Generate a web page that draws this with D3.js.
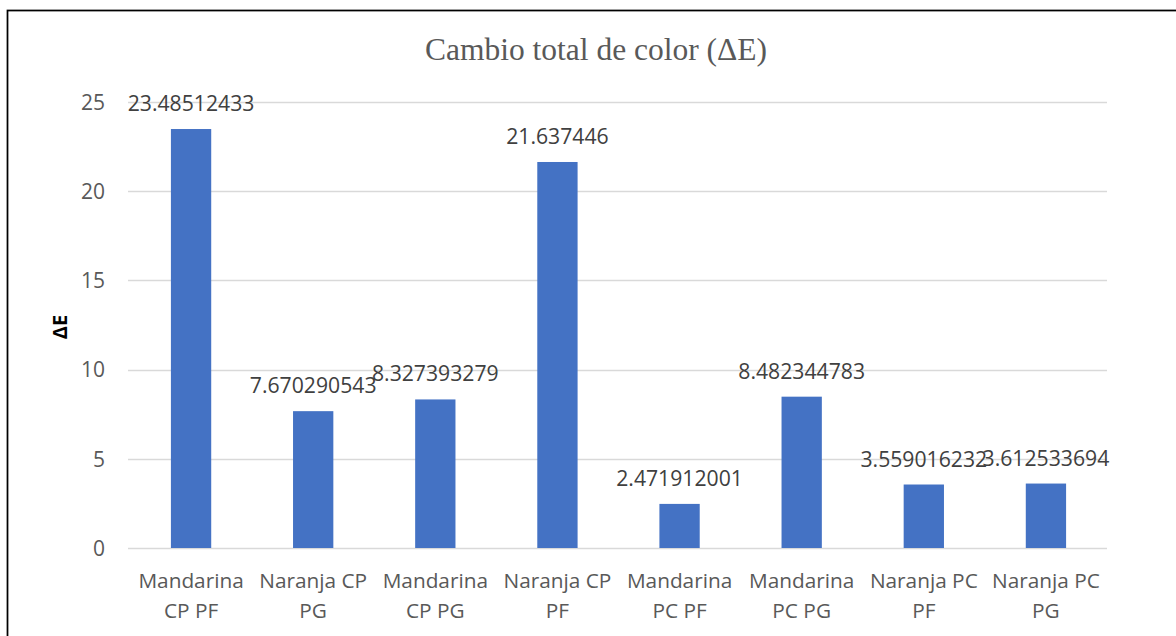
<!DOCTYPE html>
<html>
<head>
<meta charset="utf-8">
<script src="https://cdn.jsdelivr.net/npm/d3@7"></script>
<style>
  html, body { margin: 0; padding: 0; background: #fff; }
  svg { display: block; }
</style>
</head>
<body>
<div id="chart"></div>
<script>
// Categories and ΔE values
const categories = [
  ["Mandarina", "CP PF"],
  ["Naranja CP", "PG"],
  ["Mandarina", "CP PG"],
  ["Naranja CP", "PF"],
  ["Mandarina", "PC PF"],
  ["Mandarina", "PC PG"],
  ["Naranja PC", "PF"],
  ["Naranja PC", "PG"]
];
const deltaE = [23.48512433, 7.670290543, 8.327393279, 21.637446, 2.471912001, 8.482344783, 3.559016232, 3.612533694];
const valueLabels = ["23.48512433", "7.670290543", "8.327393279", "21.637446", "2.471912001", "8.482344783", "3.559016232", "3.612533694"];
const yTicks = [0, 5, 10, 15, 20, 25];

const W = 1176, H = 636;
const plot = { left: 130, right: 1107, top: 102, bottom: 548 };

const svg = d3.select("#chart").append("svg")
  .attr("width", W).attr("height", H);

// Frame
svg.append("rect")
  .attr("x", 7.5).attr("y", 10.5)
  .attr("width", W + 20).attr("height", H + 20)
  .attr("fill", "#fff").attr("stroke", "#000").attr("stroke-width", 1.75);

const x = d3.scaleBand()
  .domain(d3.range(categories.length))
  .range([plot.left, plot.right])
  .paddingInner(0.67).paddingOuter(0.335);

const y = d3.scaleLinear().domain([0, 25]).range([plot.bottom, plot.top]);

// Gridlines
svg.append("g")
  .selectAll("line").data(yTicks).join("line")
  .attr("x1", plot.left - 2).attr("x2", plot.right)
  .attr("y1", d => Math.round(y(d)) + 0.5).attr("y2", d => Math.round(y(d)) + 0.5)
  .attr("stroke", "#d9d9d9").attr("stroke-width", 1.3);

// Y axis tick labels
const yAxis = d3.axisLeft(y).tickValues(yTicks).tickSize(0).tickPadding(0);
const gy = svg.append("g").attr("transform", `translate(${plot.left - 25},0)`).call(yAxis);
gy.select(".domain").remove();
gy.selectAll("text")
  .attr("font-family", "'Open Sans', sans-serif").attr("font-size", 21)
  .attr("fill", "#595959").attr("dy", "0.35em");

// Bars
svg.append("g")
  .selectAll("rect").data(deltaE).join("rect")
  .attr("x", (d, i) => x(i))
  .attr("width", x.bandwidth())
  .attr("y", d => y(d))
  .attr("height", d => y(0) - y(d))
  .attr("fill", "#4472c4");

// Value labels
svg.append("g")
  .selectAll("text").data(deltaE).join("text")
  .attr("x", (d, i) => x(i) + x.bandwidth() / 2)
  .attr("y", d => y(d) - 18)
  .attr("text-anchor", "middle")
  .attr("font-family", "'Open Sans', sans-serif").attr("font-size", 21.2)
  .attr("fill", "#404040")
  .text((d, i) => valueLabels[i]);

// Category labels (two lines)
const cat = svg.append("g")
  .selectAll("text").data(categories).join("text")
  .attr("text-anchor", "middle")
  .attr("font-family", "'Open Sans', sans-serif").attr("font-size", 20.8)
  .attr("fill", "#595959");
cat.each(function(d, i) {
  const t = d3.select(this);
  const cx = x(i) + x.bandwidth() / 2;
  t.append("tspan").attr("x", cx).attr("y", 588).text(d[0]);
  t.append("tspan").attr("x", cx).attr("y", 618).text(d[1]);
});

// Title
svg.append("text")
  .attr("x", 596).attr("y", 60)
  .attr("text-anchor", "middle")
  .attr("font-family", "'Liberation Serif', 'Times New Roman', serif")
  .attr("font-size", 31.5)
  .attr("fill", "#595959")
  .text("Cambio total de color (ΔE)");

// Y axis title
svg.append("text")
  .attr("transform", `translate(67,${(plot.top + plot.bottom) / 2 + 2}) rotate(-90)`)
  .attr("text-anchor", "middle")
  .attr("font-family", "'Open Sans', sans-serif").attr("font-size", 20)
  .attr("font-weight", "bold").attr("fill", "#000")
  .text("ΔE");
</script>
</body>
</html>
